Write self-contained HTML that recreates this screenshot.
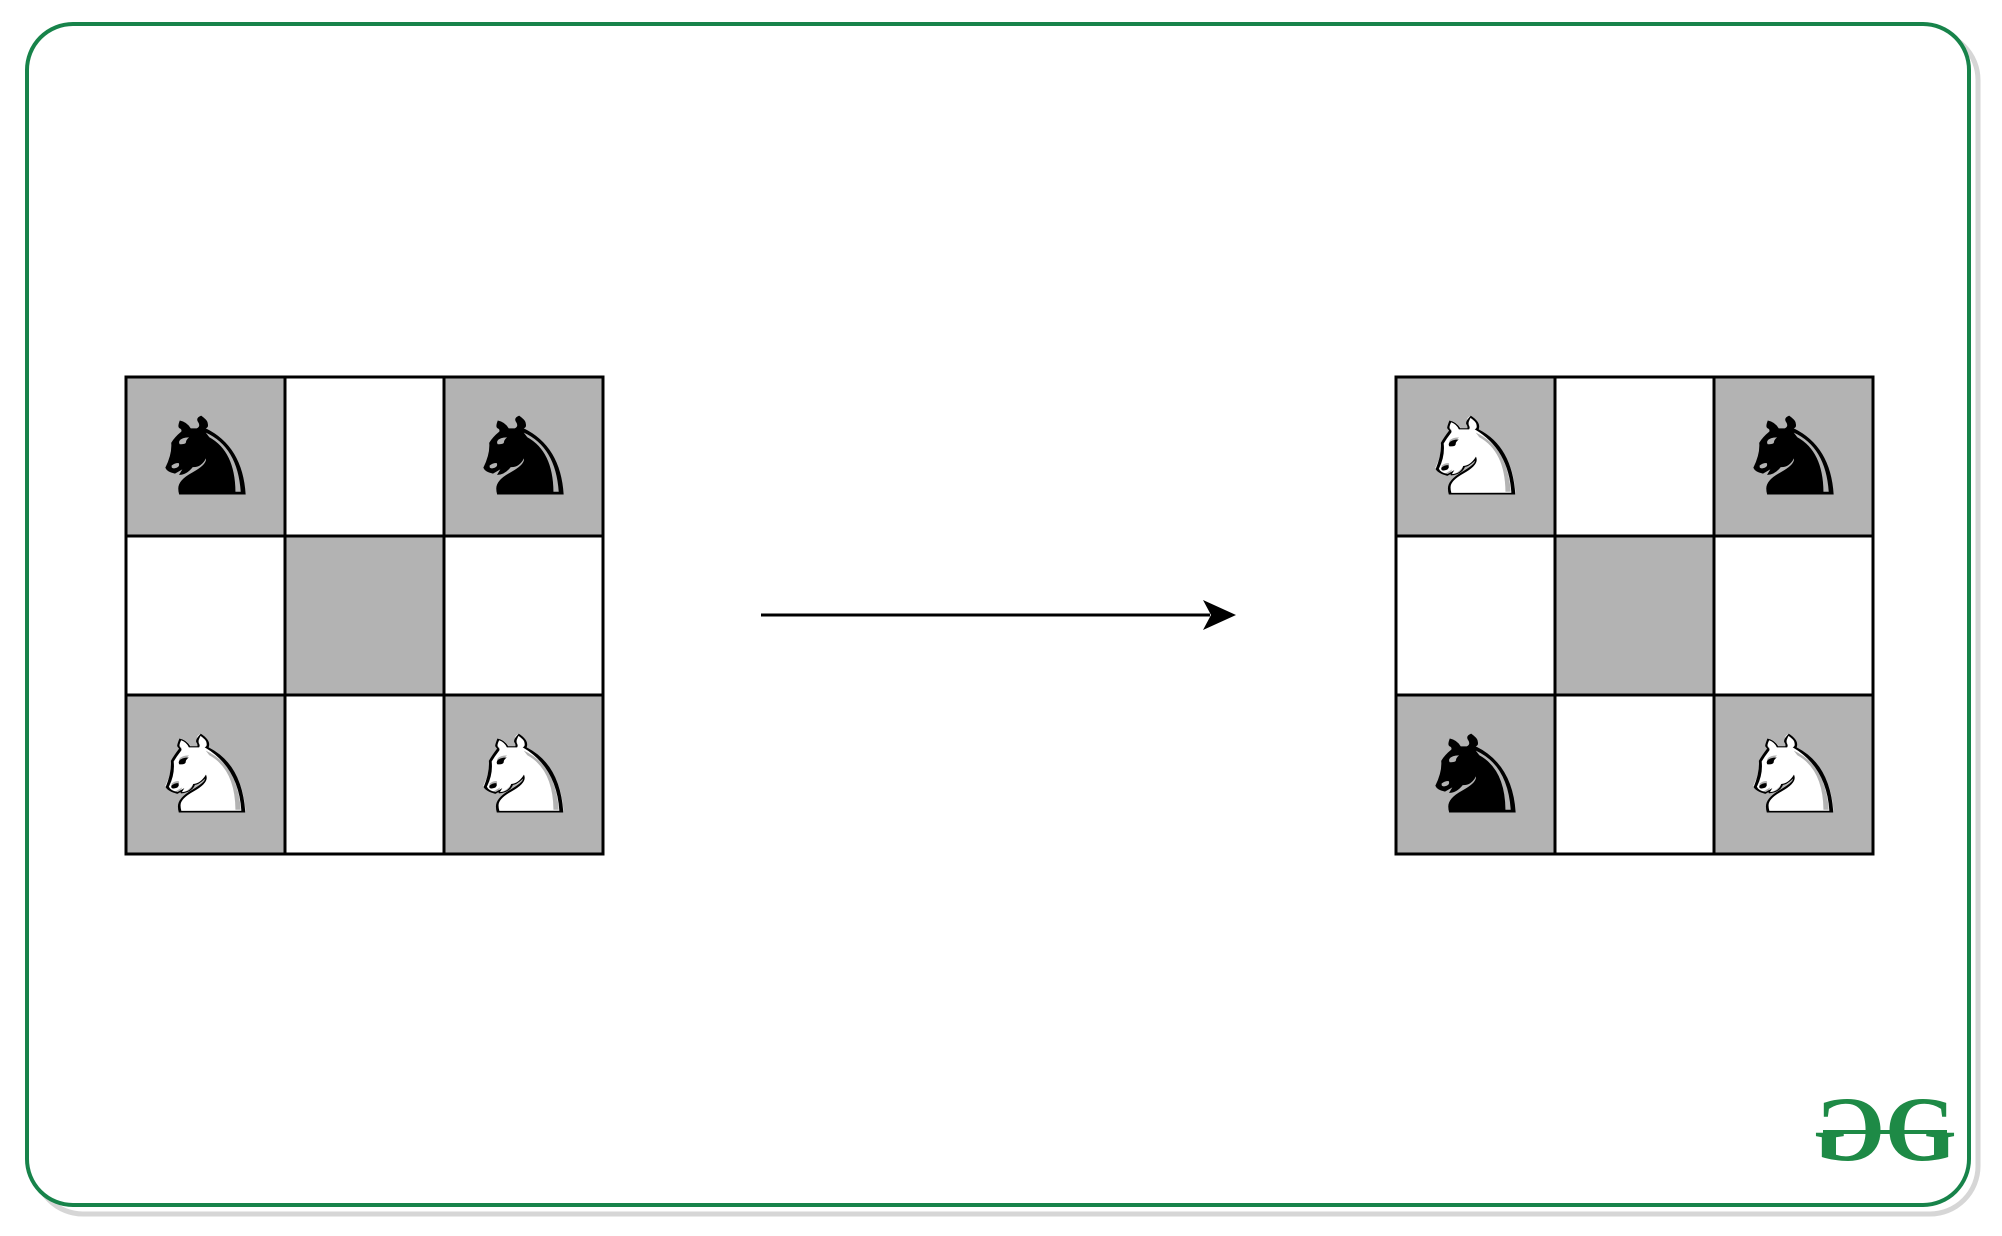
<!DOCTYPE html>
<html><head><meta charset="utf-8"><style>
html,body{margin:0;padding:0;background:#fff;}
body{width:2002px;height:1231px;overflow:hidden;position:relative;font-family:"Liberation Sans","DejaVu Sans",sans-serif;}
</style></head><body>
<svg width="2002" height="1231" viewBox="0 0 2002 1231">
  <rect x="35" y="32" width="1943" height="1182" rx="48" fill="none" stroke="#d6d6d6" stroke-width="5"/>
  <rect x="27" y="24" width="1942" height="1181" rx="46" fill="#fff" stroke="#17834a" stroke-width="4"/>
  <g id="boards"></g>
  <g>
    <line x1="761" y1="615" x2="1210" y2="615" stroke="#000" stroke-width="3"/>
    <polygon points="1236,615 1203,600 1211,615 1203,630" fill="#000"/>
  </g>
  <g fill="#1e8a46">
    <text x="1885" y="1160" font-family="Liberation Serif, serif" font-size="92" font-weight="bold" transform="translate(3770,0) scale(-1,1)">G</text>
    <text x="1885" y="1160" font-family="Liberation Serif, serif" font-size="92" font-weight="bold">G</text>
    <rect x="1823" y="1130" width="124" height="4"/>
  </g>
</svg>
<script>
const boardsG=document.getElementById('boards');
const NS='http://www.w3.org/2000/svg';
const boardX=[126,1396];
const boardY=377;
const cell=159;
const leftPieces=[['b','','b'],['','',''],['w','','w']];
const rightPieces=[['w','','b'],['','',''],['b','','w']];
const layouts=[leftPieces,rightPieces];
layouts.forEach((lay,bi)=>{
  const g=document.createElementNS(NS,'g');
  
  
  boardsG.appendChild(g);
  for(let r=0;r<3;r++)for(let c=0;c<3;c++){
    const x=boardX[bi]+c*cell,y=boardY+r*cell;
    const rc=document.createElementNS(NS,'rect');
    rc.setAttribute('x',x);rc.setAttribute('y',y);rc.setAttribute('width',cell);rc.setAttribute('height',cell);
    rc.setAttribute('fill',(r+c)%2===0?'#b3b3b3':'#ffffff');
    rc.setAttribute('stroke','#000');rc.setAttribute('stroke-width','3');
    
    
    g.appendChild(rc);
    const p=lay[r][c];
    if(p){
      const cx=x+cell/2;
      const tr='translate('+cx+',0) scale(1.3,1) translate('+(-cx)+',0)';
      const mk=(glyph,fill)=>{
        const t=document.createElementNS(NS,'text');
        t.setAttribute('x',cx);t.setAttribute('y',y+cell/2+38);
        t.setAttribute('text-anchor','middle');
        t.setAttribute('font-family','DejaVu Sans, sans-serif');
        t.setAttribute('font-size','108');
        t.setAttribute('fill',fill);
        t.setAttribute('transform',tr);
        t.textContent=glyph;
        return t;
      };
      if(p==='w'){
        const bg=mk('\u265E','#fff');
        
        
        g.appendChild(bg);
      }
      const t=mk(p==='b'?'\u265E':'\u2658','#000');
      
      
      g.appendChild(t);
    }
  }
});
</script>
</body></html>
